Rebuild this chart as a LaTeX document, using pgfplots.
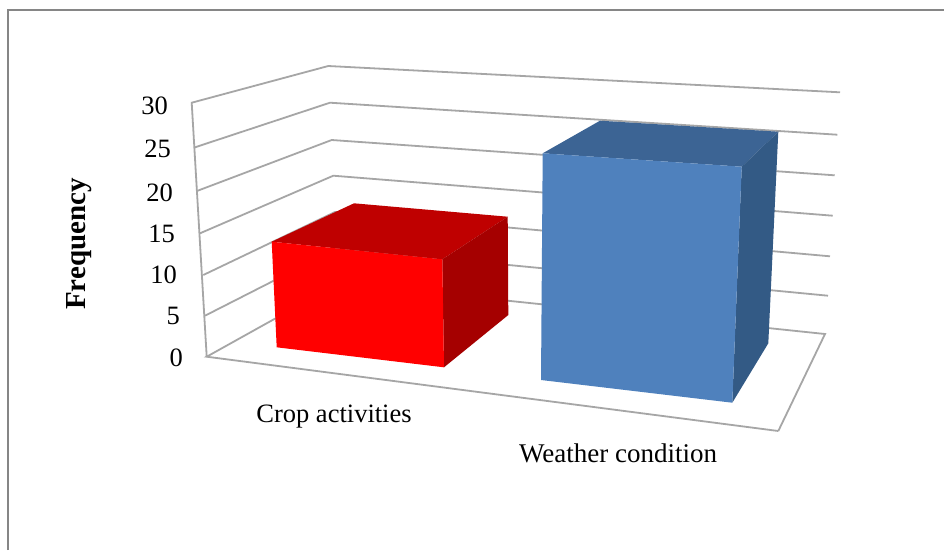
\documentclass[border=0pt]{standalone}
\usepackage{pgfplots}
\usepackage{fontspec}
\setmainfont{Liberation Serif}
\pgfplotsset{compat=1.18}

\definecolor{gridc}{HTML}{A6A6A6}
\definecolor{framec}{HTML}{868686}
\definecolor{redfront}{HTML}{FF0000}
\definecolor{redtop}{HTML}{BF0000}
\definecolor{redside}{HTML}{A50000}
\definecolor{bluefront}{HTML}{4F81BD}
\definecolor{bluetop}{HTML}{3C6494}
\definecolor{blueside}{HTML}{335A85}

\tikzset{
  wall/.style={draw=gridc, line width=1.8pt, line join=miter},
  face/.style={draw=none, fill=#1},
  lbl/.style={font=\fontsize{26.5}{30}\selectfont, inner sep=0pt},
}

\begin{document}
\begin{tikzpicture}
\begin{axis}[
    scale only axis,
    width=944pt, height=550pt,
    xmin=0, xmax=944, ymin=0, ymax=550,
    y dir=reverse,
    hide axis,
    clip=true,
]
% the perspective of the 3-d chart is not a parallel projection, so every
% corner is given as projected in picture coordinates (x right, y down)

% page extent and outer frame
\addplot[draw=white, fill=white] coordinates {(0,0) (944,0) (944,550) (0,550)} -- cycle;
\addplot[draw=framec, line width=2pt] coordinates {(8,550) (8,9.5) (944,9.5)};

% gridlines: levels 30, 25, 20, 15, 10, 5
\addplot[wall] coordinates {(206.7,356.7) (191.7,102.7) (328.3,66) (840,92.3)};
\addplot[wall] coordinates {(195,147.3) (330,102.7) (837.3,134.7)};
\addplot[wall] coordinates {(197.7,190.7) (331.7,140) (834.7,175.3)};
\addplot[wall] coordinates {(200,233.3) (333.3,175.7) (832.7,215.7)};
\addplot[wall] coordinates {(203.3,275) (335,212) (830,256.3)};
\addplot[wall] coordinates {(205,315.7) (337,248.5) (828,295.7)};
% floor, level 0
\addplot[wall] coordinates {(778.3,431) (206.7,356.7) (339,283) (825,334) (778.3,431)};

% Crop activities, about 13
\addplot[face=redtop] coordinates {(271.7,241.7) (354,203.3) (507.7,216.7) (442.3,259.3)} -- cycle;
\addplot[face=redside] coordinates {(442.3,259.3) (507.7,216.7) (508.3,315) (444,367.3)} -- cycle;
\addplot[face=redfront] coordinates {(271.7,241.7) (442.3,259.3) (444,367.3) (276.7,347.3)} -- cycle;

% Weather condition, about 25
\addplot[face=bluetop] coordinates {(542.7,153.3) (600,120.7) (778.3,131.7) (741.7,166.7)} -- cycle;
\addplot[face=blueside] coordinates {(741.7,166.7) (778.3,131.7) (768.3,343.3) (732.3,402.7)} -- cycle;
\addplot[face=bluefront] coordinates {(542.7,153.3) (741.7,166.7) (732.3,402.7) (541,380)} -- cycle;

% value axis labels
\node[lbl, anchor=east] at (axis cs:168,106) {30};
\node[lbl, anchor=east] at (axis cs:171,149) {25};
\node[lbl, anchor=east] at (axis cs:173,192.7) {20};
\node[lbl, anchor=east] at (axis cs:175,234) {15};
\node[lbl, anchor=east] at (axis cs:177,275) {10};
\node[lbl, anchor=east] at (axis cs:180,316) {5};
\node[lbl, anchor=east] at (axis cs:183,358) {0};

\node[lbl] at (axis cs:334,416.5) {Crop activities};
\node[lbl, font=\fontsize{27}{31}\selectfont] at (axis cs:618,453) {Weather condition};
\node[lbl, rotate=90, font=\fontsize{29}{33}\selectfont\bfseries] at (axis cs:79,244) {Frequency};
\end{axis}
\end{tikzpicture}
\end{document}
